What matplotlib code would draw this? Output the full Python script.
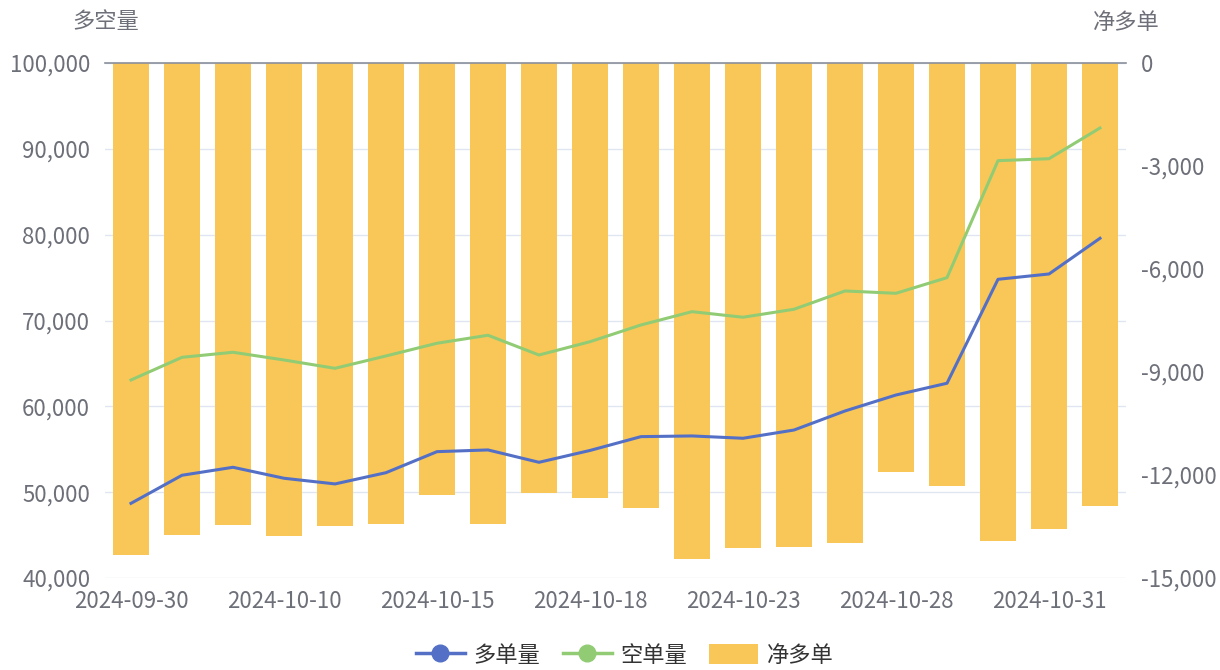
import matplotlib
matplotlib.use("Agg")
import matplotlib.pyplot as plt
from matplotlib.lines import Line2D
from matplotlib.patches import Patch
from matplotlib.ticker import FuncFormatter, MultipleLocator

plt.rcParams['font.family'] = ['Noto Sans CJK SC', 'DejaVu Sans']

# trading days
dates = ['2024-09-30', '2024-10-08', '2024-10-09', '2024-10-10', '2024-10-11',
         '2024-10-14', '2024-10-15', '2024-10-16', '2024-10-17', '2024-10-18',
         '2024-10-21', '2024-10-22', '2024-10-23', '2024-10-24', '2024-10-25',
         '2024-10-28', '2024-10-29', '2024-10-30', '2024-10-31', '2024-11-01']

long_vol = [48700, 51970, 52900, 51620, 50960, 52270, 54720, 54920, 53480, 54860,
            56470, 56550, 56280, 57240, 59460, 61320, 62690, 74800, 75420, 79580]
short_vol = [63070, 65710, 66300, 65400, 64430, 65870, 67350, 68280, 65980, 67530,
             69480, 71030, 70380, 71310, 73440, 73170, 74990, 88620, 88850, 92430]
net_long = [-14330, -13750, -13460, -13780, -13490, -13430, -12580, -13430, -12520, -12670,
            -12960, -14450, -14130, -14100, -13980, -11910, -12320, -13920, -13570, -12900]

BLUE = '#5470c6'
GREEN = '#91cc75'
YELLOW = '#f9c758'
TXT = '#6e7079'
GRID = '#e0e6f1'
FS = 16

fig = plt.figure(figsize=(12.2, 6.7), dpi=100)
rect = [105.5 / 1220, 1 - 578 / 670, 1020 / 1220, 515 / 670]

ax = fig.add_axes(rect)                           # left scale + grid
axb = fig.add_axes(rect, sharex=ax)               # bars, right scale
axl = fig.add_axes(rect, sharex=ax, sharey=ax)    # lines on top

x = list(range(len(dates)))

axb.bar(x, net_long, width=0.69, color=YELLOW, zorder=2)
axl.plot(x, long_vol, color=BLUE, lw=2.2, solid_joinstyle='round')
axl.plot(x, short_vol, color=GREEN, lw=2.2, solid_joinstyle='round')

ax.set_xlim(-0.5, len(dates) - 0.5)
ax.set_ylim(40000, 100000)
axb.set_ylim(-15000, 0)

fmt = FuncFormatter(lambda v, p: f"{int(round(v)):,}")

ax.yaxis.set_major_locator(MultipleLocator(10000))
ax.yaxis.set_major_formatter(fmt)
ax.grid(axis='y', color=GRID, lw=1)
ax.set_xticks(x[::3])
ax.set_xticklabels(dates[::3])
ax.tick_params(axis='x', length=0, pad=9, labelsize=FS, labelcolor=TXT)
ax.tick_params(axis='y', length=0, pad=11, labelsize=FS, labelcolor=TXT)

axb.yaxis.tick_right()
axb.yaxis.set_major_locator(MultipleLocator(3000))
axb.yaxis.set_major_formatter(fmt)
axb.tick_params(axis='y', length=0, pad=11, labelsize=FS, labelcolor=TXT)
axb.tick_params(axis='x', bottom=False, labelbottom=False)
# category axis line sits at zero of the bar scale
axb.axhline(0, color='#8a8f9c', lw=1.2, zorder=3, clip_on=False)

axl.tick_params(left=False, bottom=False, labelleft=False, labelbottom=False)

for a in (ax, axb, axl):
    for s in a.spines.values():
        s.set_visible(False)
axb.patch.set_visible(False)
axl.patch.set_visible(False)

fig.text(105.5 / 1220, 1 - 22 / 670, '多空量', ha='center', va='center',
         fontsize=FS, color=TXT)
fig.text(1126 / 1220, 1 - 22 / 670, '净多单', ha='center', va='center',
         fontsize=FS, color=TXT)

handles = [
    Line2D([], [], color=BLUE, lw=2.5, marker='o', markersize=12),
    Line2D([], [], color=GREEN, lw=2.5, marker='o', markersize=12),
    Patch(facecolor=YELLOW, edgecolor='none'),
]
fig.legend(handles, ['多单量', '空单量', '净多单'], loc='center',
           bbox_to_anchor=(625 / 1220, 15 / 670), ncol=3, frameon=False,
           fontsize=FS, handlelength=2.2, handleheight=1.0, handletextpad=0.4,
           columnspacing=1.0, labelcolor='#333333')

fig.savefig('out.png', dpi=100)
